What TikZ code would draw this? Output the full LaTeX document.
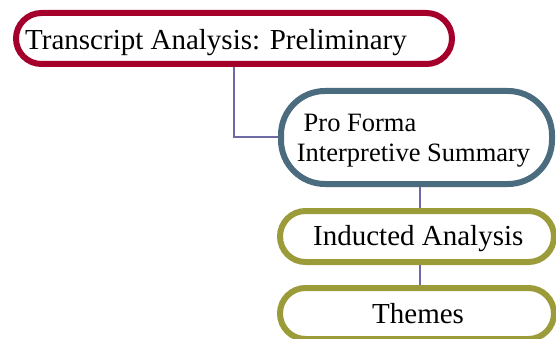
\documentclass[tikz,border=0pt]{standalone}
\usepackage{fontspec}
\setmainfont{Liberation Serif}
\definecolor{redline}{HTML}{A5002B}
\definecolor{slateline}{HTML}{4B6B7F}
\definecolor{oliveline}{HTML}{9C9B3A}
\definecolor{linkline}{HTML}{6E6AA6}
\tikzset{
  pill/.style={draw, line width=6pt, fill=white, inner sep=0pt},
  label/.style={anchor=base west, inner sep=0pt, text=black},
  link/.style={draw=linkline, line width=2pt},
}
\begin{document}
\begin{tikzpicture}[x=1pt, y=-1pt]
\useasboundingbox (0,0) rectangle (556,339);
% stage boxes
\node[pill, draw=redline, rounded corners=25.5pt, minimum width=436pt, minimum height=51pt] (b1) at (234,38.5) {};
\node[pill, draw=slateline, rounded corners=44pt, minimum width=271pt, minimum height=93pt] (b2) at (416.5,137.5) {};
\node[pill, draw=oliveline, rounded corners=25.5pt, minimum width=274pt, minimum height=51pt] (b3) at (417,236.5) {};
\node[pill, draw=oliveline, rounded corners=25.5pt, minimum width=274pt, minimum height=51pt] (b4) at (417,313.5) {};
% labels
\node[label, font=\fontsize{29}{33}\selectfont] (t1) at (25,50) {Transcript Analysis: Preliminary};
\node[label, font=\fontsize{26.5}{30}\selectfont] (t2a) at (303.5,131.7) {Pro Forma};
\node[label, font=\fontsize{26.5}{30}\selectfont] (t2b) at (296.7,161.7) {Interpretive Summary};
\node[label, font=\fontsize{29}{33}\selectfont] (t3) at (313,245) {Inducted Analysis};
\node[label, font=\fontsize{29}{33}\selectfont] (t4) at (372,323) {Themes};
% connectors
\coordinate (spine) at (420,0);
\draw[link] (b1.south) |- (b2.west);
\draw[link] (b2.south -| spine) -- (b3.north -| spine);
\draw[link] (b3.south -| spine) -- (b4.north -| spine);
\end{tikzpicture}
\end{document}
